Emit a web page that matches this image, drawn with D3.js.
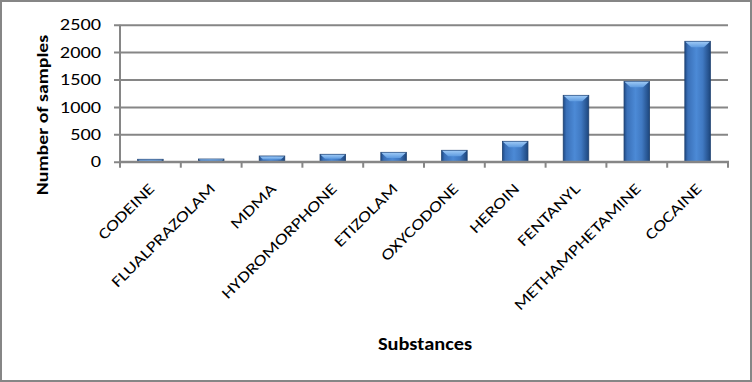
<!DOCTYPE html>
<html>
<head>
<meta charset="utf-8">
<script src="https://cdn.jsdelivr.net/npm/d3@7"></script>
<style>
html,body{margin:0;padding:0;background:#fff;}
svg{display:block;}
text{font-family:"Carlito","Open Sans","Liberation Sans",sans-serif;fill:#000;}
</style>
</head>
<body>
<svg id="chart" width="752" height="382"></svg>
<script>
const categories = ["CODEINE","FLUALPRAZOLAM","MDMA","HYDROMORPHONE","ETIZOLAM","OXYCODONE","HEROIN","FENTANYL","METHAMPHETAMINE","COCAINE"];
const values = [44, 49, 104, 135, 171, 208, 372, 1211, 1467, 2197];
const yTicks = [0, 500, 1000, 1500, 2000, 2500];
const yTitle = "Number of samples";
const xTitle = "Substances";

const svg = d3.select("#chart");
const W = 752, H = 382;
const m = {left:120, right:24, top:24.7, bottom:220.3};
const x0 = m.left, x1 = W - m.right, y0 = H - m.bottom, yTop = m.top;
const SX = 1.27; // glyph widening along text direction

// outer border
svg.append("rect").attr("x",1).attr("y",1).attr("width",W-2).attr("height",H-2)
  .attr("fill","#fff").attr("stroke","#868686").attr("stroke-width",2);

const x = d3.scaleBand().domain(categories).range([x0,x1]).paddingInner(0.58).paddingOuter(0.29);
const y = d3.scaleLinear().domain([0,2500]).range([y0,yTop]);

const defs = svg.append("defs");
const g1 = defs.append("linearGradient").attr("id","barGrad").attr("x1","0").attr("x2","1").attr("y1","0").attr("y2","0");
[["0%","#1f4a85"],["12%","#3a70b8"],["45%","#4c8ad6"],["70%","#4079c2"],["100%","#1d467d"]].forEach(s=>g1.append("stop").attr("offset",s[0]).attr("stop-color",s[1]));
const g2 = defs.append("linearGradient").attr("id","topGrad").attr("x1","0").attr("x2","0").attr("y1","0").attr("y2","1");
[["0%","#9cc8f5"],["100%","#5e9be0"]].forEach(s=>g2.append("stop").attr("offset",s[0]).attr("stop-color",s[1]));

// gridlines + y tick labels
const yAxis = d3.axisLeft(y).tickValues(yTicks).tickFormat(d3.format("d")).tickSize(-(x1-x0)).tickSizeOuter(0);
const ga = svg.append("g").attr("transform",`translate(${x0},0)`).call(yAxis);
ga.select(".domain").remove();
ga.selectAll(".tick line").attr("stroke","#868686").attr("stroke-width",2).attr("x1",-6);
ga.selectAll(".tick text").attr("font-size","16px").attr("x",0)
  .attr("transform",`translate(-19,0) scale(${SX},1)`)
  .style("font-family",'"Carlito","Open Sans","Liberation Sans",sans-serif');

// left axis line
svg.append("line").attr("x1",x0).attr("x2",x0).attr("y1",yTop).attr("y2",y0)
  .attr("stroke","#868686").attr("stroke-width",2);

// bars
const bars = svg.append("g");
categories.forEach((c,i)=>{
  const bx = x(c), bw = x.bandwidth(), by = y(values[i]), bh = y0 - by;
  bars.append("rect").attr("x",bx).attr("y",by).attr("width",bw).attr("height",bh)
    .attr("fill","url(#barGrad)").attr("stroke","#1f4170").attr("stroke-width",0.8);
  const b = Math.min(6, bh*0.6);
  bars.append("polygon")
    .attr("points",[[bx+0.5,by+0.5],[bx+bw-0.5,by+0.5],[bx+bw-b-0.5,by+b],[bx+b+0.5,by+b]].map(p=>p.join(",")).join(" "))
    .attr("fill","url(#topGrad)");
});

// bottom axis
svg.append("line").attr("x1",x0-1).attr("x2",x1+1).attr("y1",y0).attr("y2",y0)
  .attr("stroke","#868686").attr("stroke-width",2);
const bounds = d3.range(categories.length+1).map(i=>x0 + i*(x1-x0)/categories.length);
svg.append("g").selectAll("line").data(bounds).join("line")
  .attr("x1",d=>d).attr("x2",d=>d).attr("y1",y0).attr("y2",y0+6)
  .attr("stroke","#868686").attr("stroke-width",2);

// x labels
svg.append("g").selectAll("text").data(categories).join("text")
  .attr("transform",d=>`translate(${x(d)+x.bandwidth()/2+5},${y0+28}) rotate(-45) scale(${SX},1)`)
  .attr("text-anchor","end").attr("font-size","15.5px").text(d=>d);

// titles
svg.append("text").attr("transform",`translate(48,115) rotate(-90) scale(1.2,1)`)
  .attr("text-anchor","middle").attr("font-size","16.5px").attr("font-weight","bold").text(yTitle);
svg.append("text").attr("transform",`translate(425,350) scale(1.2,1)`)
  .attr("text-anchor","middle").attr("font-size","17px").attr("font-weight","bold").text(xTitle);
</script>
</body>
</html>
